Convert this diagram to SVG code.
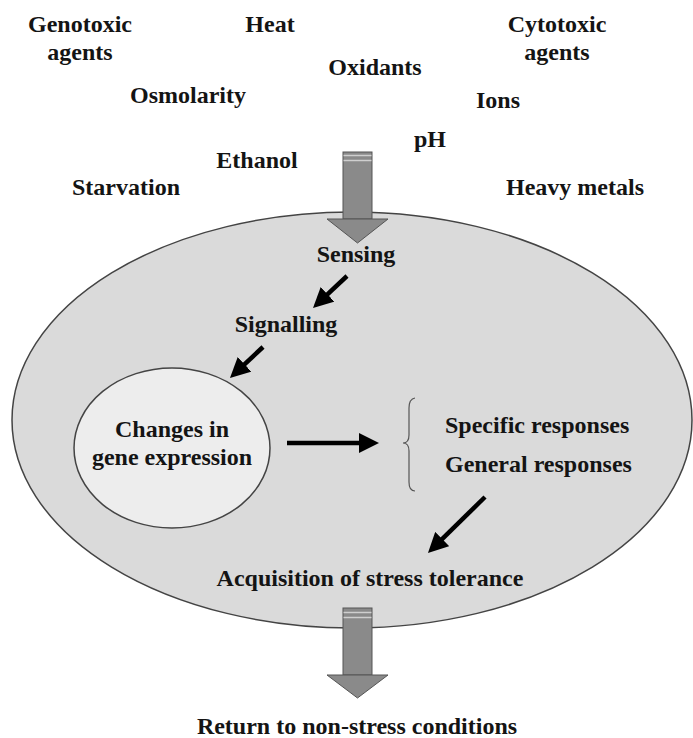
<svg xmlns="http://www.w3.org/2000/svg" width="693" height="738" viewBox="0 0 693 738">
  <style>
    text { font-family: "Liberation Serif", "Times New Roman", serif; font-weight: bold; font-size: 24px; fill: #141414; }
    .c { text-anchor: middle; }
    .s { text-anchor: start; }
    .arrow { stroke: #000; stroke-width: 4.5; fill: none; marker-end: url(#head); }
    .big { fill: #8a8a8a; stroke: #555; stroke-width: 1; }
    .stripe { stroke: #cfcfcf; stroke-width: 1.5; }
  </style>
  <defs>
    <marker id="head" viewBox="0 0 20 20" refX="2" refY="10" markerWidth="20" markerHeight="20" markerUnits="userSpaceOnUse" orient="auto">
      <path d="M0,0 L20,10 L0,20 z" fill="#000"/>
    </marker>
  </defs>
  <rect width="693" height="738" fill="#fff"/>

  <g id="cell">
    <ellipse cx="352" cy="420" rx="340" ry="208" fill="#dadada" stroke="#444" stroke-width="1.5"/>
  </g>

  <g id="stressors">
    <text class="c" x="80" y="32">Genotoxic</text>
    <text class="c" x="80" y="60">agents</text>
    <text class="c" x="270" y="32">Heat</text>
    <text class="c" x="375" y="75">Oxidants</text>
    <text class="c" x="557" y="32">Cytotoxic</text>
    <text class="c" x="557" y="60">agents</text>
    <text class="c" x="188" y="103">Osmolarity</text>
    <text class="c" x="498" y="108">Ions</text>
    <text class="c" x="430" y="147">pH</text>
    <text class="c" x="257" y="168">Ethanol</text>
    <text class="c" x="126" y="195">Starvation</text>
    <text class="c" x="575" y="195">Heavy metals</text>
  </g>

  <g id="arrow-in">
    <rect class="big" x="343" y="152" width="29" height="67"/>
    <line class="stripe" x1="343.5" y1="155.5" x2="371.5" y2="155.5"/>
    <line class="stripe" x1="343.5" y1="160.5" x2="371.5" y2="160.5"/>
    <polygon class="big" points="327,219 388,219 357.5,243"/>
  </g>

  <g id="sensing"><text class="c" x="356" y="262">Sensing</text></g>
  <g id="signalling"><text class="c" x="286" y="332">Signalling</text></g>

  <g id="gene-expression">
    <ellipse cx="172" cy="448" rx="98" ry="80" fill="#ededed" stroke="#444" stroke-width="1.5"/>
    <text class="c" x="172" y="437">Changes in</text>
    <text class="c" x="172" y="465">gene expression</text>
  </g>

  <g id="responses">
    <path d="M415,398 Q409,399 409,408 L409,435 Q409,443 403,443 Q409,443 409,451 L409,482 Q409,491 415,491" fill="none" stroke="#555" stroke-width="1.2"/>
    <text class="s" x="445" y="433">Specific responses</text>
    <text class="s" x="445" y="472">General responses</text>
  </g>

  <g id="tolerance"><text class="c" x="370" y="586">Acquisition of stress tolerance</text></g>

  <g id="arrow-out">
    <rect class="big" x="343" y="608" width="29" height="67"/>
    <line class="stripe" x1="343.5" y1="612.5" x2="371.5" y2="612.5"/>
    <line class="stripe" x1="343.5" y1="617.5" x2="371.5" y2="617.5"/>
    <polygon class="big" points="327,675 388,675 357.5,698"/>
  </g>

  <g id="return"><text class="c" x="357" y="734">Return to non-stress conditions</text></g>

  <g id="connectors">
    <line class="arrow" x1="347" y1="276" x2="326.1" y2="295.7"/>
    <line class="arrow" x1="263" y1="347" x2="243.1" y2="365.7"/>
    <line class="arrow" x1="287" y1="443" x2="361" y2="443"/>
    <line class="arrow" x1="485" y1="497" x2="440.8" y2="540.4"/>
  </g>
</svg>
